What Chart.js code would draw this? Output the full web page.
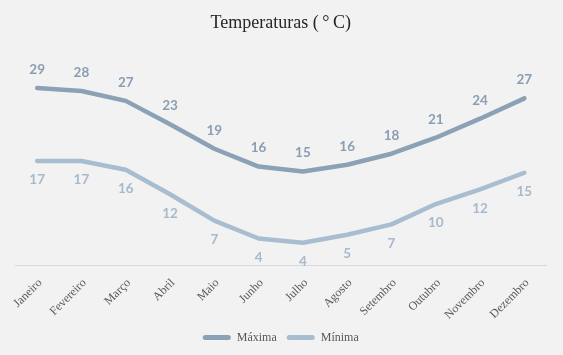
<!DOCTYPE html>
<html>
<head>
<meta charset="utf-8">
<script src="https://cdn.jsdelivr.net/npm/chart.js@4/dist/chart.umd.min.js"></script>
<style>
  html, body { margin: 0; padding: 0; background: #f2f2f2; }
  #wrap { width: 563px; height: 355px; position: relative; }
</style>
</head>
<body>
<div id="wrap"><canvas id="c" width="563" height="355"></canvas></div>
<script>
const months = ["Janeiro","Fevereiro","Março","Abril","Maio","Junho","Julho","Agosto","Setembro","Outubro","Novembro","Dezembro"];
const maxima = [28.9, 28.4, 26.8, 23.0, 19.0, 16.1, 15.3, 16.4, 18.2, 20.8, 23.9, 27.2];
const minima = [17.0, 17.0, 15.6, 11.6, 7.3, 4.4, 3.7, 5.0, 6.7, 10.0, 12.4, 15.1];
const seriesNames = ["Máxima", "Mínima"];
const lineColors = ["#8aa1b6", "#a9bdd1"];
const labelColors = ["#8a9eb3", "#a8b9cc"];

const valueLabels = {
  id: 'valueLabels',
  afterDatasetsDraw(chart) {
    const ctx = chart.ctx;
    ctx.save();
    ctx.font = 'bold 13.5px Lato, "Open Sans", sans-serif';
    ctx.textAlign = 'center';
    ctx.textBaseline = 'middle';
    chart.data.datasets.forEach((ds, i) => {
      const meta = chart.getDatasetMeta(i);
      meta.data.forEach((pt, j) => {
        const p = pt.getProps(['x', 'y'], true);
        ctx.fillStyle = labelColors[i];
        const dy = i === 0 ? -18.5 : 19;
        ctx.fillText(String(Math.round(ds.data[j])), p.x, p.y + dy);
      });
    });
    ctx.restore();
  }
};

new Chart(document.getElementById('c'), {
  type: 'line',
  data: {
    labels: months,
    datasets: [
      { label: seriesNames[0], data: maxima, borderColor: lineColors[0], backgroundColor: lineColors[0] },
      { label: seriesNames[1], data: minima, borderColor: lineColors[1], backgroundColor: lineColors[1] }
    ]
  },
  options: {
    responsive: false,
    animation: false,
    devicePixelRatio: 1,
    layout: { padding: { left: 15, right: 16.5, top: 8, bottom: 1.5 } },
    elements: {
      line: { borderWidth: 4.5, tension: 0, borderCapStyle: 'round', borderJoinStyle: 'round', fill: false },
      point: { radius: 0, hoverRadius: 0 }
    },
    scales: {
      x: {
        offset: true,
        grid: { display: false, drawTicks: false },
        border: { display: true, color: '#d9d9d9', width: 1 },
        afterFit: (scale) => { scale.height = 56; },
        ticks: {
          minRotation: 45, maxRotation: 45, padding: 10.5, labelOffset: 3,
          color: '#595959',
          font: { family: '"Liberation Serif", serif', size: 12 }
        }
      },
      y: {
        display: false,
        min: 0, max: 35
      }
    },
    plugins: {
      title: {
        display: true,
        text: 'Temperaturas (\u2009°\u2009C)',
        color: '#262626',
        font: { family: '"Liberation Serif", serif', size: 18, weight: 'normal' },
        padding: { top: 4.5, bottom: 16.4 }
      },
      legend: {
        position: 'bottom',
        labels: {
          color: '#595959',
          font: { family: '"Liberation Serif", serif', size: 12 },
          boxWidth: 28, boxHeight: 5, padding: 10,
          useBorderRadius: true, borderRadius: 2.5,
          generateLabels: (chart) => Chart.defaults.plugins.legend.labels.generateLabels(chart).map(it => Object.assign(it, { lineWidth: 0 }))
        }
      },
      tooltip: { enabled: false }
    }
  },
  plugins: [valueLabels]
});
</script>
</body>
</html>
